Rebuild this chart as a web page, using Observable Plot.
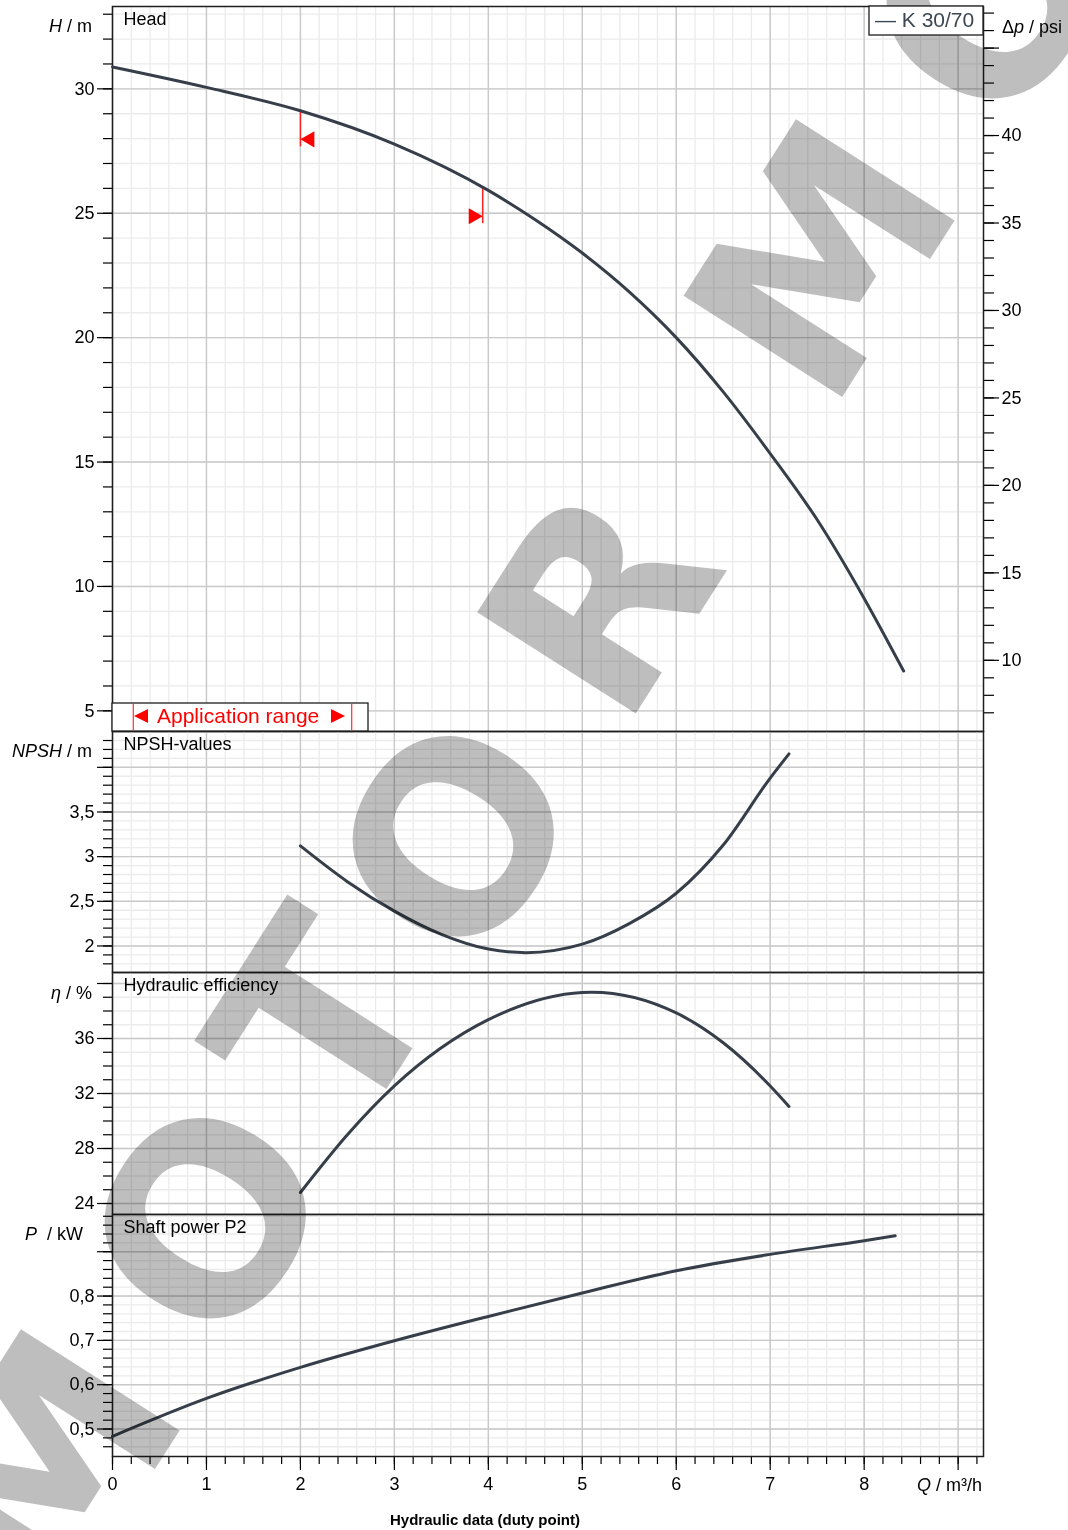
<!DOCTYPE html>
<html><head><meta charset="utf-8">
<script src="https://cdn.jsdelivr.net/npm/d3@7"></script>
<script src="https://cdn.jsdelivr.net/npm/@observablehq/plot@0.6"></script>
<style>
body{margin:0;background:#fff;font-family:"Liberation Sans",Arial,Helvetica,sans-serif;}
#wrap{position:relative;width:1068px;height:1530px;overflow:hidden;background:#fff;}
#wrap > svg{display:block;}
#wm{position:absolute;left:0;top:0;pointer-events:none;mix-blend-mode:multiply;}
#ann{position:absolute;left:0;top:0;pointer-events:none;}
</style></head><body><div id="wrap"></div>
<script>
// ---- data ----
const qHead = [0, 1, 2, 3, 4, 4.5, 5, 5.5, 6, 6.5, 7, 7.5, 8, 8.42];
const head  = [30.88, 30.06, 29.12, 27.78, 25.92, 24.74, 23.4, 21.84, 20.0, 17.82, 15.34, 12.68, 9.52, 6.6];
const qNpsh = [2, 2.5, 3, 3.5, 4, 4.4, 5, 5.5, 6, 6.5, 7, 7.2];
const npsh  = [3.12, 2.72, 2.39, 2.13, 1.965, 1.925, 2.02, 2.25, 2.59, 3.13, 3.88, 4.15];
const qEff  = [2, 2.5, 3, 4, 5, 5.1, 6, 6.5, 7, 7.2];
const eff   = [24.8, 29.0, 32.55, 37.37, 39.35, 39.37, 37.86, 35.69, 32.55, 31.06];
const qPow  = [0, 1, 2, 3, 4, 5, 6, 7, 8, 8.33];
const power = [0.4835, 0.569, 0.639, 0.699, 0.754, 0.807, 0.857, 0.894, 0.925, 0.936];
const appRangeQ = [2, 3.94];
const appRangeH = [29.12, 26.03];
const pumpName = "K 30/70";
const panelTitles = ["Head", "NPSH-values", "Hydraulic efficiency", "Shaft power P2"];
// tick values / labels
const xMajor = [0, 1, 2, 3, 4, 5, 6, 7, 8, 9];
const xLabels = [0, 1, 2, 3, 4, 5, 6, 7, 8];
const xMinor = d3.range(0, 47).map(i => i / 5);
const hMajor = [5, 10, 15, 20, 25, 30];
const hMinor = d3.range(5, 34);
const psiMajor = [10, 15, 20, 25, 30, 35, 40, 45];
const psiLabels = [10, 15, 20, 25, 30, 35, 40];
const psiMinor = d3.range(7, 48);
const npshMajor = [2, 2.5, 3, 3.5, 4];
const npshLabels = [2, 2.5, 3, 3.5];
const npshMinor = d3.range(18, 44).map(i => i / 10);
const effMajor = [24, 28, 32, 36, 40];
const effLabels = [24, 28, 32, 36];
const effMinor = d3.range(24, 41);
const powMajor = [0.5, 0.6, 0.7, 0.8, 0.9];
const powLabels = [0.5, 0.6, 0.7, 0.8];
const powMinor = d3.range(23, 50).map(i => i / 50);
const PSI_PER_M = 1.4223;
// watermark letters (decoration, page pixels)
const wmLetters = ["M", "O", "T", "O", "R", "M", "O"];
const wmX = [44, 205, 320, 453, 597, 819, 987];
const wmY = [1468, 1218, 1018, 836, 599, 258, -2];

// ---- styling ----
const FONT = '"Liberation Sans", Arial, Helvetica, sans-serif';
const CURVE = "#363f49";
const CURVE_TYPE = "monotone-x";
const W = 1068, ML = 112, MR = 85;
const xDomain = [0, 9.27];
const fmt = d => String(d).replace(".", ",");

function grid(yMinor, yMajor) {
  return [
    Plot.gridX(xMinor, {stroke: "#ebebeb", strokeOpacity: 1, strokeWidth: 1.3}),
    Plot.gridY(yMinor, {stroke: "#ebebeb", strokeOpacity: 1, strokeWidth: 1.3}),
    Plot.gridX(xMajor, {stroke: "#c9c9c9", strokeOpacity: 1, strokeWidth: 1.4}),
    Plot.gridY(yMajor, {stroke: "#c9c9c9", strokeOpacity: 1, strokeWidth: 1.4})
  ];
}
function leftAxis(yMinor, yMajor, yLabels) {
  return [
    Plot.axisY(yMinor, {anchor: "left", tickSize: 9, tickFormat: () => "", label: null, strokeWidth: 1.2}),
    Plot.axisY(yMajor, {anchor: "left", tickSize: 15, tickPadding: 3, label: null, fontSize: 18, strokeWidth: 1.2,
      tickFormat: d => yLabels.includes(d) ? fmt(d) : ""})
  ];
}
function title(t) {
  return Plot.text([t], {text: d => d, frameAnchor: "top-left", dx: 11, dy: 6, lineAnchor: "top",
    textAnchor: "start", fontSize: 18, fill: "#000"});
}
function frame() { return Plot.frame({stroke: "#1e1e1e", strokeWidth: 1.5}); }
function curveLine(ys, xs) {
  return Plot.line(ys, {x: xs, y: ys, curve: CURVE_TYPE, stroke: CURVE, strokeWidth: 3, strokeLinecap: "round"});
}
const style = {fontFamily: FONT, fontSize: "18px", background: "transparent", overflow: "visible", color: "#000"};

const wrap = document.getElementById("wrap");

// Panel 1: Head
const p1 = Plot.plot({
  width: W, height: 731, marginLeft: ML, marginRight: MR, marginTop: 6, marginBottom: 0, style,
  x: {domain: xDomain, axis: null},
  y: {domain: [4.17, 33.31]},
  marks: [
    ...grid(hMinor, hMajor),
    ...leftAxis(hMinor, hMajor, hMajor),
    Plot.axisY(psiMinor.map(p => p / PSI_PER_M), {anchor: "right", tickSize: 10, tickFormat: () => "", label: null, strokeWidth: 1.2}),
    Plot.axisY(psiMajor.map(p => p / PSI_PER_M), {anchor: "right", tickSize: 15, tickPadding: 3, label: null, fontSize: 18, strokeWidth: 1.2,
      tickFormat: d => { const p = Math.round(d * PSI_PER_M); return psiLabels.includes(p) ? String(p) : ""; }}),
    frame(),
    Plot.ruleX(appRangeQ, {x: d => d, y1: (d, i) => appRangeH[i], y2: (d, i) => appRangeH[i] - 1.45, stroke: "#ff2020", strokeWidth: 1.5}),
    Plot.dot(appRangeQ, {x: d => d, y: (d, i) => appRangeH[i] - 1.15, symbol: "triangle", r: 6,
      rotate: (d, i) => i === 0 ? -90 : 90, fill: "#ff0000", stroke: "none"}),
    curveLine(head, qHead),
    title(panelTitles[0])
  ]
});
// shift triangles so that the tip touches the rule
d3.select(p1).selectAll("g[aria-label=dot] path").each(function(d, i) {
  const el = d3.select(this);
  const t = el.attr("transform") || "";
  el.attr("transform", `translate(${i === 0 ? 9.3 : -9.3},0) ` + t);
});
wrap.appendChild(p1);

// Panel 2: NPSH
const p2 = Plot.plot({
  width: W, height: 241, marginLeft: ML, marginRight: MR, marginTop: 0, marginBottom: 0, style,
  x: {domain: xDomain, axis: null},
  y: {domain: [1.703, 4.401]},
  marks: [
    ...grid(npshMinor, npshMajor),
    ...leftAxis(npshMinor, npshMajor, npshLabels),
    frame(),
    curveLine(npsh, qNpsh),
    title(panelTitles[1])
  ]
});
wrap.appendChild(p2);

// Panel 3: efficiency
const p3 = Plot.plot({
  width: W, height: 242, marginLeft: ML, marginRight: MR, marginTop: 0, marginBottom: 0, style,
  x: {domain: xDomain, axis: null},
  y: {domain: [23.2, 40.8]},
  marks: [
    ...grid(effMinor, effMajor),
    ...leftAxis(effMinor, effMajor, effLabels),
    frame(),
    curveLine(eff, qEff),
    title(panelTitles[2])
  ]
});
wrap.appendChild(p3);

// Panel 4: power + x axis
const p4 = Plot.plot({
  width: W, height: 316, marginLeft: ML, marginRight: MR, marginTop: 0, marginBottom: 74, style,
  x: {domain: xDomain},
  y: {domain: [0.438, 0.984]},
  marks: [
    ...grid(powMinor, powMajor),
    ...leftAxis(powMinor, powMajor, powLabels),
    Plot.axisX(xMinor, {anchor: "bottom", tickSize: 8, tickFormat: () => "", label: null, strokeWidth: 1.2}),
    Plot.axisX(xMajor, {anchor: "bottom", tickSize: 14, tickPadding: 7, label: null, fontSize: 18, strokeWidth: 1.2,
      tickFormat: d => xLabels.includes(d) ? String(d) : ""}),
    frame(),
    curveLine(power, qPow),
    title(panelTitles[3])
  ]
});
wrap.appendChild(p4);

// ---- watermark ----
const wm = d3.select(wrap).append("svg").attr("id", "wm").attr("width", 1068).attr("height", 1530);
const WM_SIZE = 258;
wmLetters.forEach((ch, i) => {
  wm.append("text")
    .attr("transform", `translate(${wmX[i]},${wmY[i]}) rotate(-57.5)`)
    .attr("text-anchor", "middle").attr("y", 0.365 * WM_SIZE)
    .attr("font-family", '"DejaVu Sans", Verdana, sans-serif').attr("font-weight", "bold")
    .attr("font-size", WM_SIZE).attr("fill", "#bebebe")
    .text(ch);
});

// ---- annotations (axis titles, legend boxes) ----
const ann = d3.select(wrap).append("svg").attr("id", "ann").attr("width", 1068).attr("height", 1530)
  .attr("font-family", FONT);
function label(x, y, parts, anchor = "end", size = 18) {
  const t = ann.append("text").attr("x", x).attr("y", y).attr("text-anchor", anchor).attr("font-size", size).attr("fill", "#000")
    .style("white-space", "pre");
  parts.forEach(([s, it]) => t.append("tspan").attr("font-style", it ? "italic" : "normal").text(s));
  return t;
}
label(92, 31.5, [["H", true], [" / m", false]]);
label(92, 756.5, [["NPSH", true], [" / m", false]]);
label(92, 999, [["η", true], [" / %", false]]);
label(83, 1239.5, [["P", true], ["  / kW", false]]);
label(1002, 33, [["Δ", false], ["p", true], [" / psi", false]], "start");
label(982, 1491, [["Q", true], [" / m³/h", false]]);
ann.append("text").attr("x", 485).attr("y", 1525).attr("text-anchor", "middle")
  .attr("font-size", 15).attr("font-weight", "bold").attr("fill", "#000").text("Hydraulic data (duty point)");

// legend top-right
ann.append("rect").attr("x", 869).attr("y", 6).attr("width", 114).attr("height", 29)
  .attr("fill", "#fff").attr("stroke", "#1e1e1e").attr("stroke-width", 1.3);
ann.append("text").attr("x", 875).attr("y", 27).attr("font-size", 21).attr("fill", "#3d4752")
  .style("white-space", "pre").text("— " + pumpName);

// application range box
ann.append("rect").attr("x", 112).attr("y", 703).attr("width", 256).attr("height", 28)
  .attr("fill", "#fff").attr("stroke", "#1e1e1e").attr("stroke-width", 1.3);
[133.3, 351.7].forEach(x => ann.append("line").attr("x1", x).attr("x2", x).attr("y1", 703.5).attr("y2", 730.5)
  .attr("stroke", "#ff3030").attr("stroke-width", 1.2));
ann.append("path").attr("d", "M134,716 L148,709 L148,723 Z").attr("fill", "#ff0000");
ann.append("path").attr("d", "M345,716 L331,709 L331,723 Z").attr("fill", "#ff0000");
ann.append("text").attr("x", 157).attr("y", 723.3).attr("font-size", 21).attr("fill", "#ff0000").text("Application range");
</script></body></html>
